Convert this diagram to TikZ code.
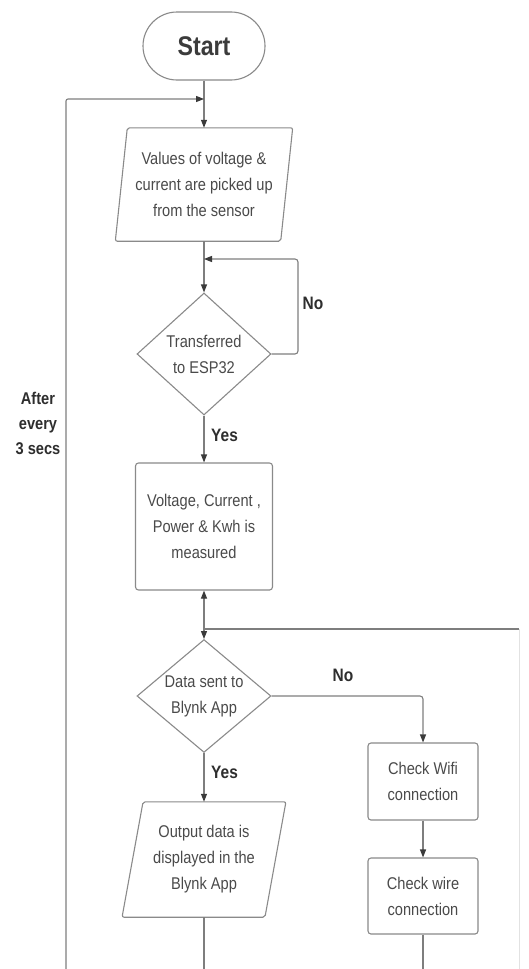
\documentclass[tikz,border=0pt]{standalone}
\usepackage{fontspec}
\setmainfont{Liberation Sans}[FakeStretch=0.86]
\usetikzlibrary{shapes.geometric,arrows.meta,calc}
\definecolor{linegray}{HTML}{7E7E7E}
\definecolor{boxgray}{HTML}{8A8A8A}
\definecolor{txtgray}{HTML}{4A4A4A}
\definecolor{lblgray}{HTML}{2E2E2E}
\definecolor{tipgray}{HTML}{3A3A3A}
\definecolor{faintgray}{HTML}{E2E2E2}
\begin{document}
\begin{tikzpicture}[x=1pt,y=-1pt,
  conn/.style={draw=linegray, line width=1.1pt},
  arr/.style={conn, -{Triangle[length=8pt,width=6pt,color=tipgray]}},
  boxtxt/.style={align=center, text=txtgray, font=\fontsize{17}{26}\selectfont, inner sep=0pt},
  procbox/.style={boxtxt, draw=boxgray, line width=1.1pt, rounded corners=3pt},
  iobox/.style={boxtxt},
  decbox/.style={boxtxt, diamond, draw=boxgray, line width=1.1pt, aspect=1.1},
  lbl/.style={text=lblgray, font=\bfseries\fontsize{18}{25}\selectfont, align=center, inner sep=0pt}
]
\useasboundingbox (0,0) rectangle (528,969);
\fill[white] (0,0) rectangle (528,969);

% Start
\node[procbox, rounded corners=34pt, minimum width=122pt, minimum height=68pt,
      font=\fontsize{27}{30}\selectfont\bfseries, text=txtgray!80!black] (start) at (204,46) {Start};

% Input 1 (parallelogram)
\node[iobox, minimum width=165pt, minimum height=113pt] (in1) at (204,184.5)
  {Values of voltage \&\\current are picked up\\from the sensor};
\draw[draw=boxgray, line width=1.1pt, rounded corners=2pt]
  ($(in1.north west)+(6,0)$) -- ($(in1.north east)+(6,0)$) --
  ($(in1.south east)+(-6,0)$) -- ($(in1.south west)+(-6,0)$) -- cycle;

% Decision 1
\node[decbox, minimum width=134pt, minimum height=122pt] (d1) at (204,354)
  {Transferred\\to ESP32};

% Process 1
\node[procbox, minimum width=137pt, minimum height=127pt] (r1) at (204,526.5)
  {Voltage, Current ,\\Power \& Kwh is\\measured};

% Decision 2
\node[decbox, minimum width=134pt, minimum height=112pt] (d2) at (204,696)
  {Data sent to\\Blynk App};

% Output (parallelogram)
\node[iobox, minimum width=142.5pt, minimum height=115pt] (in2) at (204,859.5)
  {Output data is\\displayed in the\\Blynk App};
\draw[draw=boxgray, line width=1.1pt, rounded corners=2pt]
  ($(in2.north west)+(10.5,0)$) -- ($(in2.north east)+(10.5,0)$) --
  ($(in2.south east)+(-10.5,0)$) -- ($(in2.south west)+(-10.5,0)$) -- cycle;

% Check boxes
\node[procbox, minimum width=110pt, minimum height=77pt] (wifi) at (423,781.5)
  {Check Wifi\\connection};
\node[procbox, minimum width=110pt, minimum height=76pt] (wire) at (423,896)
  {Check wire\\connection};

% Coordinates
\coordinate (j1) at (204,99);
\coordinate (loopl) at (66,969);
\coordinate (j2) at (204,259);
\coordinate (nr) at (298,259);
\coordinate (j3) at (204,629);
\coordinate (rc) at (519,629);
\coordinate (rb) at (519,969);
\coordinate (b2) at (204,969);
\coordinate (bw) at (423,969);

% Connectors
\draw[arr] (start.south) -- (in1.north);
\draw[arr, rounded corners=2pt] (loopl) |- (j1);
\draw[arr] (in1.south) -- (d1.north);
\draw[arr, rounded corners=3pt] (d1.east) -| (nr) -- (j2);
\draw[arr] (d1.south) -- (r1.north);
\draw[arr] (j3) -- (r1.south);
\draw[arr] (j3) -- (d2.north);
\draw[conn] (j3) -- (rc);
\draw[draw=faintgray, line width=1pt] (rc) -- (rb);
\draw[arr, rounded corners=3pt] (d2.east) -| (wifi.north);
\draw[arr] (d2.south) -- (in2.north);
\draw[arr] (wifi.south) -- (wire.north);
\draw[conn] (in2.south) -- (b2);
\draw[conn] (wire.south) -- (bw);

% Labels
\node[lbl] (no1) at (313,303) {No};
\node[lbl, anchor=west] (yes1) at (211,435) {Yes};
\node[lbl] (no2) at (343,675) {No};
\node[lbl, anchor=west] (yes2) at (211,772) {Yes};
\node[lbl, font=\bfseries\fontsize{17}{25}\selectfont] (after) at (38,423) {After\\every\\3 secs};
\end{tikzpicture}
\end{document}
